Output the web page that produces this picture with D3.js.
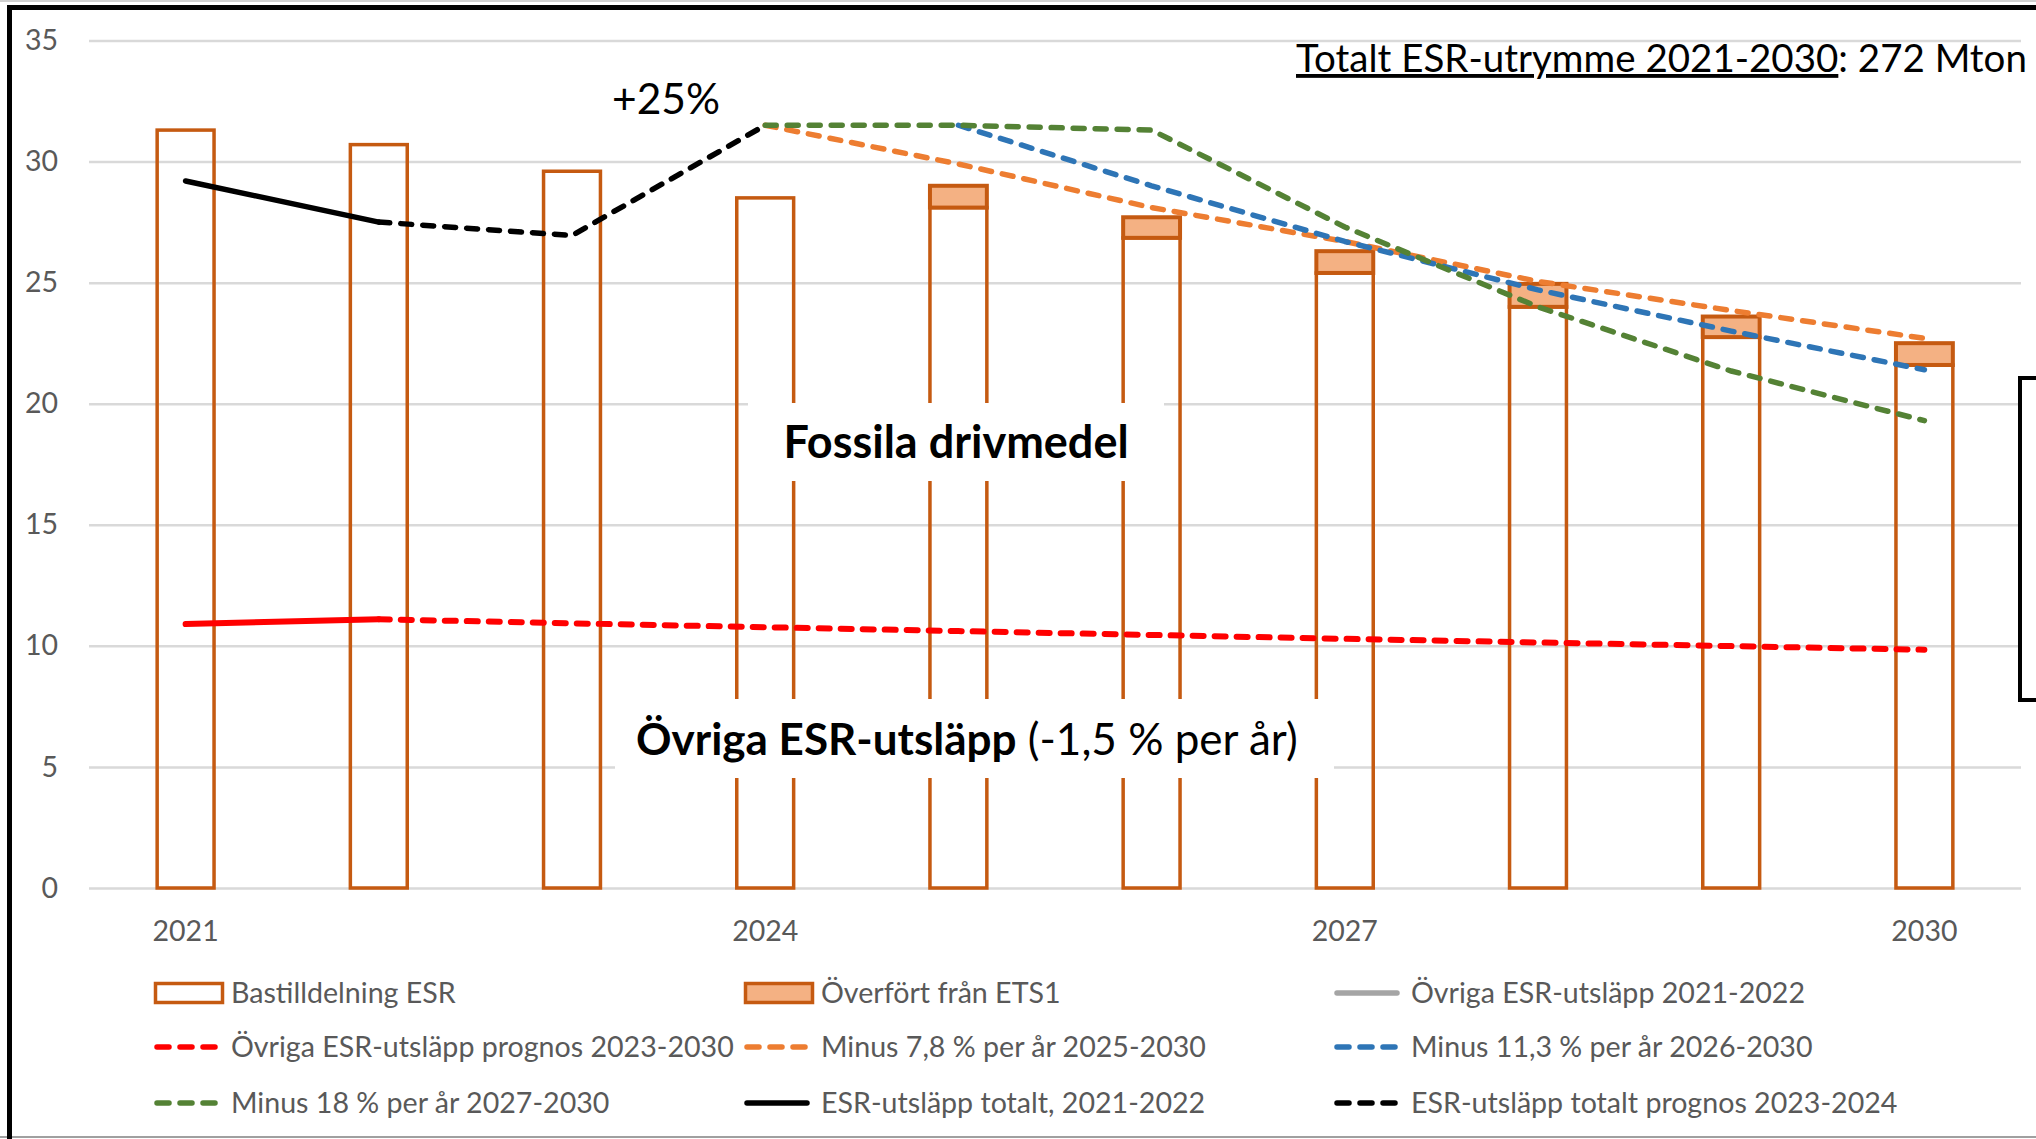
<!DOCTYPE html>
<html>
<head>
<meta charset="utf-8">
<script src="https://cdn.jsdelivr.net/npm/d3@7"></script>
<style>
  html, body { margin: 0; padding: 0; background: #fff; }
  svg { display: block; font-family: Lato, "Open Sans", sans-serif; }
</style>
</head>
<body>
<svg id="chart" width="2036" height="1139"></svg>
<script>
// ---------- data ----------
const years = ["2021","2022","2023","2024","2025","2026","2027","2028","2029","2030"];
const yTicks = [0, 5, 10, 15, 20, 25, 30, 35];
const xTickLabels = ["2021","2024","2027","2030"];

// Bastilldelning ESR (base allocation)
const bastilldelning = [31.3, 30.7, 29.6, 28.5, 28.1, 26.85, 25.4, 24.0, 22.75, 21.6];
// Överfört från ETS1 (transfer on top)
const overfort = [0, 0, 0, 0, 0.9, 0.85, 0.9, 0.95, 0.85, 0.9];

// Övriga ESR-utsläpp (other ESR emissions)
const ovrigaHistYears = ["2021","2022"];
const ovrigaHist = [10.9, 11.1];
const ovrigaPrognosYears = ["2022","2023","2024","2025","2026","2027","2028","2029","2030"];
const ovrigaPrognos = [11.1, 10.93, 10.77, 10.61, 10.45, 10.29, 10.14, 9.99, 9.84];

// ESR-utsläpp totalt
const totalHistYears = ["2021","2022"];
const totalHist = [29.2, 27.5];
const totalPrognosYears = ["2022","2023","2024"];
const totalPrognos = [27.5, 26.95, 31.5];

// Scenario paths
const minus78Years = ["2024","2025","2026","2027","2028","2029","2030"];
const minus78 = [31.5, 29.9, 28.1, 26.7, 25.05, 23.85, 22.7];
const minus113Years = ["2025","2026","2027","2028","2029","2030"];
const minus113 = [31.5, 29.0, 26.7, 24.7, 23.0, 21.4];
const minus18Years = ["2024","2025","2026","2027","2028","2029","2030"];
const minus18 = [31.5, 31.5, 31.3, 27.3, 24.0, 21.35, 19.3];

const legendLabels = [
  "Bastilldelning ESR", "Överfört från ETS1", "Övriga ESR-utsläpp 2021-2022",
  "Övriga ESR-utsläpp prognos 2023-2030", "Minus 7,8 % per år 2025-2030", "Minus 11,3 % per år 2026-2030",
  "Minus 18 % per år 2027-2030", "ESR-utsläpp totalt, 2021-2022", "ESR-utsläpp totalt prognos 2023-2024"
];

// ---------- styles ----------
const C = {
  bar: "#C55A11", transfer: "#F4B183", red: "#FF0000", orange: "#ED7D31",
  blue: "#2E75B6", green: "#548235", black: "#000000", gray: "#A5A5A5",
  grid: "#D9D9D9", text: "#595959"
};
const legendStyles = [
  {type: "rect", fill: "#fff"}, {type: "rect", fill: C.transfer}, {type: "line", color: C.gray, dash: null},
  {type: "line", color: C.red, dash: true}, {type: "line", color: C.orange, dash: true}, {type: "line", color: C.blue, dash: true},
  {type: "line", color: C.green, dash: true}, {type: "line", color: C.black, dash: null}, {type: "line", color: C.black, dash: true}
];

const svg = d3.select("#chart");
const W = 2036, H = 1139;

const x = d3.scaleBand().domain(years).range([89, 2021]).paddingInner(0.69).paddingOuter(0.345);
const y = d3.scaleLinear().domain([0, 35]).range([888, 40.5]);
const cx = d => x(d) + x.bandwidth() / 2;

// frame
svg.append("rect").attr("x", 0).attr("y", 0).attr("width", W).attr("height", H).attr("fill", "#fff");
svg.append("line").attr("x1", 0).attr("x2", W).attr("y1", 1).attr("y2", 1).attr("stroke", "#d0d0d0").attr("stroke-width", 2);
svg.append("line").attr("x1", 0).attr("x2", W).attr("y1", 1137).attr("y2", 1137).attr("stroke", "#a0a0a0").attr("stroke-width", 2);

// gridlines
const grid = svg.append("g").attr("transform", "translate(89,0)")
  .call(d3.axisLeft(y).tickValues(yTicks).tickSize(-(2021 - 89)).tickFormat(""));
grid.select(".domain").remove();
grid.selectAll(".tick line").attr("stroke", C.grid).attr("stroke-width", 2.5);

// y axis labels
const yAx = svg.append("g").attr("transform", "translate(89,0)")
  .call(d3.axisLeft(y).tickValues(yTicks).tickSize(0).tickPadding(31));
yAx.select(".domain").remove();
yAx.selectAll("text").attr("fill", C.text).style("font-size", "28.5px").style("font-family", "Lato");

// x axis labels
const xAx = svg.append("g").attr("transform", "translate(0,888)")
  .call(d3.axisBottom(x).tickValues(xTickLabels).tickSize(0).tickPadding(33));
xAx.select(".domain").remove();
xAx.selectAll("text").attr("fill", C.text).style("font-size", "28.5px").style("font-family", "Lato");

// bars
const bw = x.bandwidth();
svg.append("g").selectAll("rect").data(years).join("rect")
  .attr("x", d => x(d) + 1.5)
  .attr("width", bw - 3)
  .attr("y", (d, i) => y(bastilldelning[i]))
  .attr("height", (d, i) => y(0) - y(bastilldelning[i]))
  .attr("fill", "none").attr("stroke", C.bar).attr("stroke-width", 3.5);

svg.append("g").selectAll("rect").data(years.filter((d, i) => overfort[i] > 0)).join("rect")
  .attr("x", d => x(d) + 1.5)
  .attr("width", bw - 3)
  .attr("y", d => { const i = years.indexOf(d); return y(bastilldelning[i] + overfort[i]); })
  .attr("height", d => { const i = years.indexOf(d); return y(bastilldelning[i]) - y(bastilldelning[i] + overfort[i]); })
  .attr("fill", C.transfer).attr("stroke", C.bar).attr("stroke-width", 4);

// white label boxes (cover bars/gridlines)
svg.append("rect").attr("x", 748).attr("y", 403).attr("width", 416).attr("height", 78).attr("fill", "#fff");
svg.append("rect").attr("x", 615).attr("y", 699).attr("width", 719).attr("height", 79).attr("fill", "#fff");

// lines
const lineGen = (ys, vals) => d3.line().x((d, i) => cx(ys[i])).y((d, i) => y(vals[i]))(vals);
function drawLine(ys, vals, color, dashed, width) {
  svg.append("path").attr("d", lineGen(ys, vals)).attr("fill", "none")
    .attr("stroke", color).attr("stroke-width", width || 5.5)
    .attr("stroke-linecap", "round").attr("stroke-linejoin", "round")
    .attr("stroke-dasharray", dashed ? "11,11" : null);
}
drawLine(ovrigaHistYears, ovrigaHist, C.red, false, 6);
drawLine(ovrigaPrognosYears, ovrigaPrognos, C.red, true, 6);
drawLine(minus78Years, minus78, C.orange, true);
drawLine(minus113Years, minus113, C.blue, true);
drawLine(minus18Years, minus18, C.green, true);
drawLine(totalHistYears, totalHist, C.black, false);
drawLine(totalPrognosYears, totalPrognos, C.black, true);

// annotations
svg.append("text").attr("x", 666).attr("y", 114).attr("text-anchor", "middle")
  .style("font-size", "42.5px").attr("fill", "#000").text("+25%");

svg.append("text").attr("x", 956).attr("y", 458).attr("text-anchor", "middle")
  .style("font-size", "45px").style("font-weight", "bold").attr("fill", "#000").text("Fossila drivmedel");

const ov = svg.append("text").attr("x", 636).attr("y", 755).style("font-size", "44px").attr("fill", "#000");
ov.append("tspan").style("font-weight", "bold").text("Övriga ESR-utsläpp");
ov.append("tspan").text(" (-1,5 % per år)");

const tot = svg.append("text").attr("x", 1296).attr("y", 72).style("font-size", "38.5px").attr("fill", "#000");
tot.append("tspan").style("text-decoration", "underline").text("Totalt ESR-utrymme 2021-2030");
tot.append("tspan").text(": 272 Mton");

// partial box at right edge
svg.append("rect").attr("x", 2020).attr("y", 378).attr("width", 100).attr("height", 322)
  .attr("fill", "#fff").attr("stroke", "#000").attr("stroke-width", 4);

// legend
const legCols = [154, 744, 1334];
const legRows = [993, 1047, 1103];
const leg = svg.append("g");
legendLabels.forEach((lab, i) => {
  const col = i % 3, row = Math.floor(i / 3);
  const lx = legCols[col], ly = legRows[row];
  const st = legendStyles[i];
  const g = leg.append("g");
  if (st.type === "rect") {
    g.append("rect").attr("x", lx + 1.5).attr("y", ly - 9.5).attr("width", 67).attr("height", 19)
      .attr("fill", st.fill).attr("stroke", C.bar).attr("stroke-width", 3.5);
  } else {
    g.append("line").attr("x1", lx + 3).attr("x2", lx + 63).attr("y1", ly).attr("y2", ly)
      .attr("stroke", st.color).attr("stroke-width", 5.5).attr("stroke-linecap", "round")
      .attr("stroke-dasharray", st.dash ? "12,11" : null);
  }
  g.append("text").attr("x", lx + 77).attr("y", ly).attr("dy", "0.35em")
    .style("font-size", "28.6px").attr("fill", C.text).text(lab);
});

// outer black border (top and left)
svg.append("line").attr("x1", 7).attr("x2", W).attr("y1", 7.5).attr("y2", 7.5).attr("stroke", "#000").attr("stroke-width", 5);
svg.append("line").attr("x1", 9.5).attr("x2", 9.5).attr("y1", 5).attr("y2", H).attr("stroke", "#000").attr("stroke-width", 5);
</script>
</body>
</html>
